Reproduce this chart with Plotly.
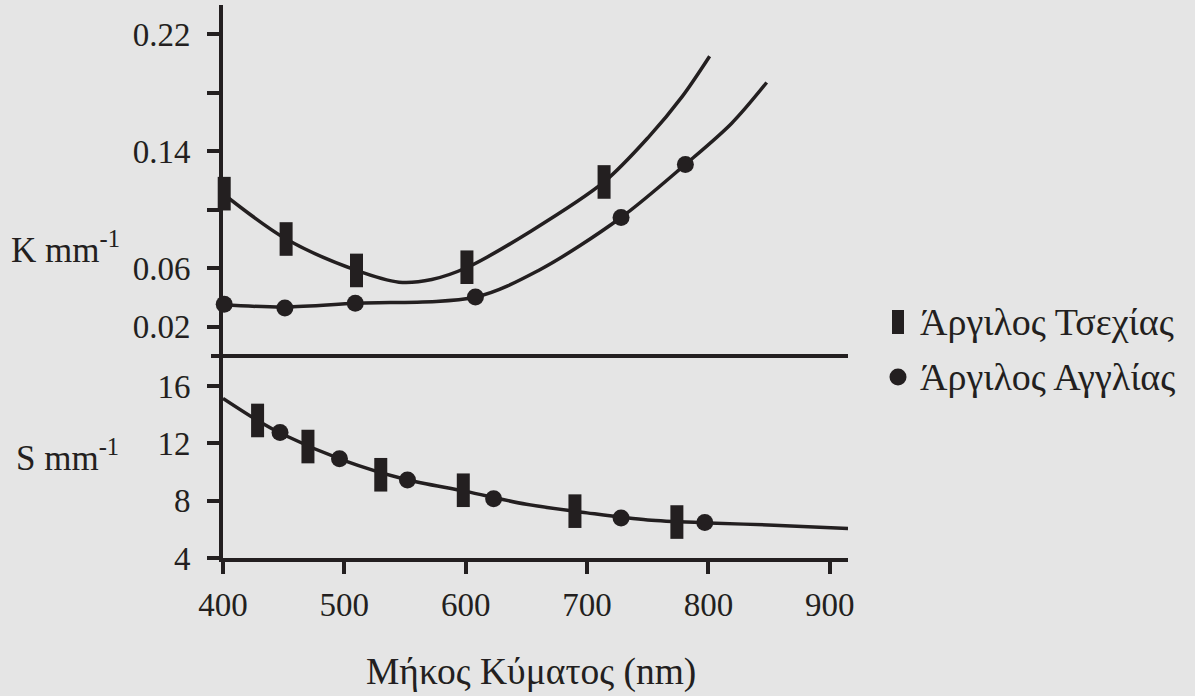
import plotly.graph_objects as go

# ---------------- data ----------------
# K (absorption) markers
k_cz_x = [401, 452, 510, 601, 714]
k_cz_y = [0.111, 0.080, 0.0585, 0.0607, 0.119]
k_en_x = [401, 451, 509, 608, 728, 781]
k_en_y = [0.0354, 0.0328, 0.036, 0.0403, 0.0947, 0.131]
# K fitted curves
k_cz_curve_x = [400, 452, 510, 545, 572, 601, 654, 714, 751, 778, 801]
k_cz_curve_y = [0.111, 0.080, 0.0585, 0.0505, 0.0523, 0.0605, 0.0855, 0.119, 0.150, 0.177, 0.205]
k_en_curve_x = [400, 451, 509, 608, 660, 728, 781, 819, 848]
k_en_curve_y = [0.035, 0.0335, 0.036, 0.0403, 0.0585, 0.0947, 0.131, 0.159, 0.187]
# S (scattering) markers
s_cz_x = [428.5, 470, 530, 598, 690, 774]
s_cz_y = [13.6, 11.78, 9.81, 8.73, 7.27, 6.51]
s_en_x = [447, 496, 552, 623, 728, 797]
s_en_y = [12.76, 10.93, 9.44, 8.14, 6.79, 6.47]
# S fitted curve
s_curve_x = [400, 428.5, 450, 500, 550, 600, 650, 700, 750, 800, 854, 915]
s_curve_y = [15.14, 13.6, 12.6, 10.8, 9.5, 8.65, 7.75, 7.15, 6.65, 6.45, 6.29, 6.06]

x_ticks = [400, 500, 600, 700, 800, 900]
k_ticks = [0.02, 0.06, 0.10, 0.14, 0.18, 0.22]
k_tick_text = ["0.02", "0.06", " ", "0.14", " ", "0.22"]
s_ticks = [4, 8, 12, 16]

series_names = ["Άργιλος Τσεχίας", "Άργιλος Αγγλίας"]
x_title = "Μήκος Κύματος (nm)"
k_label = "K mm<sup>-1</sup>"
s_label = "S mm<sup>-1</sup>"

# ---------------- styling ----------------
INK = "#231f20"
BG = "#e5e5e5"
FONT = "Liberation Serif"
FS = 33
LW = 3.5
AXW = 4
L, T, PW, PH = 223, 5, 625, 553       # plot area in pixels
SPLIT = 202 / PH                      # fraction of plot height used by S panel


def px(xp):
    return (xp - L) / PW


def py(yp):
    return (T + PH - yp) / PH


fig = go.Figure()

curve_line = dict(color=INK, width=LW, shape="spline", smoothing=0.9)
fig.add_trace(go.Scatter(x=k_cz_curve_x, y=k_cz_curve_y, mode="lines", line=curve_line,
                         xaxis="x", yaxis="y", showlegend=False, hoverinfo="skip"))
fig.add_trace(go.Scatter(x=k_en_curve_x, y=k_en_curve_y, mode="lines", line=curve_line,
                         xaxis="x", yaxis="y", showlegend=False, hoverinfo="skip"))
fig.add_trace(go.Scatter(x=s_curve_x, y=s_curve_y, mode="lines", line=curve_line,
                         xaxis="x", yaxis="y2", showlegend=False, hoverinfo="skip"))

rect_marker = dict(symbol="line-ns", size=24, color=INK, line=dict(color=INK, width=13))
dot_marker = dict(symbol="circle", size=17, color=INK, line=dict(width=0))

fig.add_trace(go.Scatter(x=k_cz_x, y=k_cz_y, mode="markers", marker=rect_marker, name=series_names[0],
                         showlegend=False, xaxis="x", yaxis="y", cliponaxis=False))
fig.add_trace(go.Scatter(x=k_en_x, y=k_en_y, mode="markers", marker=dot_marker, name=series_names[1],
                         showlegend=False, xaxis="x", yaxis="y", cliponaxis=False))
fig.add_trace(go.Scatter(x=s_cz_x, y=s_cz_y, mode="markers", marker=rect_marker, name=series_names[0],
                         showlegend=False, xaxis="x", yaxis="y2", cliponaxis=False))
fig.add_trace(go.Scatter(x=s_en_x, y=s_en_y, mode="markers", marker=dot_marker, name=series_names[1],
                         showlegend=False, xaxis="x", yaxis="y2", cliponaxis=False))

tickfont = dict(family=FONT, size=FS, color=INK)
common = dict(showgrid=False, zeroline=False, tickcolor=INK, tickwidth=AXW, ticklen=12,
              linecolor=INK, linewidth=AXW, tickfont=tickfont)
overlay = dict(showgrid=False, zeroline=False, tickcolor=INK, tickwidth=AXW, ticklen=12,
               showline=False, showticklabels=False, ticks="inside")

# legend (drawn manually so the symbols keep the chart's marker shapes)
legend_shapes = [
    dict(type="rect", xref="paper", yref="paper", x0=px(892), x1=px(904), y0=py(334), y1=py(310),
         fillcolor=INK, line=dict(width=0)),
    dict(type="circle", xref="paper", yref="paper", x0=px(889.5), x1=px(906.5), y0=py(385.5), y1=py(368.5),
         fillcolor=INK, line=dict(width=0)),
]
legend_texts = [
    dict(text=series_names[0], xref="paper", yref="paper", x=px(918), y=py(322), xanchor="left",
         yanchor="middle", showarrow=False, font=dict(family=FONT, size=38, color=INK)),
    dict(text=series_names[1], xref="paper", yref="paper", x=px(918), y=py(377), xanchor="left",
         yanchor="middle", showarrow=False, font=dict(family=FONT, size=38, color=INK)),
]

fig.update_layout(
    width=1195, height=696,
    margin=dict(l=L, r=1195 - L - PW, t=T, b=696 - T - PH),
    paper_bgcolor=BG, plot_bgcolor=BG,
    font=dict(family=FONT, color=INK, size=FS),
    showlegend=False,
    xaxis=dict(range=[400, 915], domain=[0, 1], anchor="y2", tickvals=x_ticks, ticks="outside",
               showline=True, ticklabelstandoff=2, **common),
    xaxis2=dict(range=[400, 915], overlaying="x", anchor="y2", tickvals=x_ticks, **overlay),
    yaxis=dict(range=[0, 0.24], domain=[SPLIT, 1], anchor="x", tickvals=k_ticks, ticktext=k_tick_text,
               ticks="outside", showline=True, ticklabelstandoff=10, **common),
    yaxis2=dict(range=[4, 18.1], domain=[0, SPLIT], anchor="x", tickvals=s_ticks,
                ticks="outside", showline=True, ticklabelstandoff=10, **common),
    yaxis3=dict(range=[0, 0.24], overlaying="y", anchor="x", side="left", tickvals=k_ticks, **overlay),
    yaxis4=dict(range=[4, 18.1], overlaying="y2", anchor="x", side="left", tickvals=s_ticks, **overlay),
    shapes=[dict(type="line", xref="paper", yref="paper", x0=-12 / PW, x1=1, y0=SPLIT, y1=SPLIT,
                 line=dict(color=INK, width=AXW))] + legend_shapes,
    annotations=[
        dict(text=x_title, xref="paper", yref="paper", x=px(531), y=py(672), xanchor="center", yanchor="middle",
             showarrow=False, font=dict(family=FONT, size=37.5, color=INK)),
        dict(text=k_label, xref="paper", yref="paper", x=px(9), y=py(247),
             xanchor="left", yanchor="middle", showarrow=False, font=dict(family=FONT, size=35, color=INK)),
        dict(text=s_label, xref="paper", yref="paper", x=px(14), y=py(455),
             xanchor="left", yanchor="middle", showarrow=False, font=dict(family=FONT, size=35, color=INK)),
    ] + legend_texts,
)

fig.write_html("out.html", config={"displayModeBar": False},
               post_script="document.body.style.margin='0';document.body.style.background='#e5e5e5';")
